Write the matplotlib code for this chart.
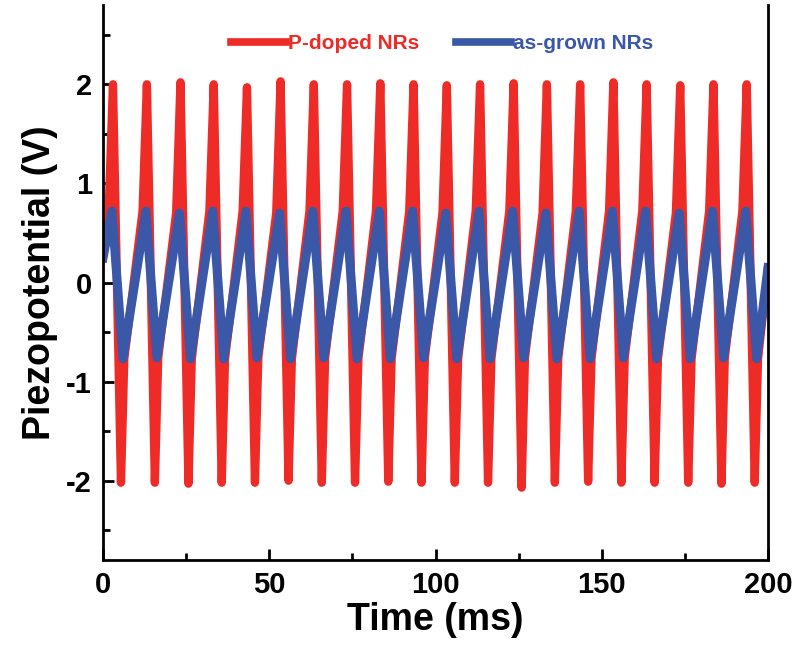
import matplotlib
matplotlib.use("Agg")
import matplotlib.pyplot as plt
from matplotlib.ticker import MultipleLocator

# times (ms) of the red spike tops, one per cycle
peak_times = [3.0, 13.2, 23.3, 33.3, 43.3, 53.4, 63.4, 73.4, 83.4, 93.4,
              103.4, 113.4, 123.5, 133.5, 143.5, 153.5, 163.5, 173.6, 183.6, 193.6]
red_peaks = [2.00, 2.00, 2.02, 2.00, 1.97, 2.03, 2.00, 2.00, 2.01, 2.00,
             1.99, 2.00, 2.01, 2.00, 2.00, 2.02, 2.00, 1.99, 2.00, 2.00]
red_troughs = [-2.02, -2.02, -2.03, -2.02, -2.02, -2.00, -2.02, -2.02, -2.01, -2.02,
               -2.02, -2.02, -2.07, -2.02, -2.01, -2.02, -2.02, -2.02, -2.03, -2.02]
blue_peaks = [0.72, 0.72, 0.70, 0.72, 0.72, 0.70, 0.72, 0.72, 0.72, 0.72,
              0.70, 0.72, 0.72, 0.70, 0.72, 0.72, 0.72, 0.70, 0.72, 0.72]
blue_troughs = [-0.77, -0.76, -0.77, -0.77, -0.76, -0.77, -0.76, -0.77, -0.77, -0.76,
                -0.77, -0.77, -0.76, -0.77, -0.77, -0.76, -0.77, -0.77, -0.76, -0.77]
start_value = 0.25
end_value = 0.15

red_c = "#ee2b26"
blue_c = "#3b57a8"

# polylines through the read key points
bt, bv = [0.0], [start_value]
rt, rv = [0.0], [start_value]
for tp, rp, rtr, bp, btr in zip(peak_times, red_peaks, red_troughs, blue_peaks, blue_troughs):
    bt += [tp - 0.3, tp + 3.0]
    bv += [bp, btr]
    rt += [tp - 1.3, tp, tp + 2.4, tp + 3.4]
    rv += [bp, rp, rtr, btr]
bt.append(200.0); bv.append(end_value)
rt.append(200.0); rv.append(end_value)

plt.rcParams['font.family'] = ['Liberation Sans Narrow', 'Liberation Sans', 'DejaVu Sans']
plt.rcParams['font.weight'] = 'bold'

fig = plt.figure(figsize=(8.02, 6.47), dpi=100)
ax = fig.add_axes([103/802, 87/647, 665/802, 555/647])

ax.plot(rt, rv, color=red_c, lw=6, label="P-doped NRs")
ax.plot(bt, bv, color=blue_c, lw=6.5, label="as-grown NRs")

ax.set_xlim(0, 200)
ax.set_ylim(-2.8, 2.8)
ax.xaxis.set_major_locator(MultipleLocator(50))
ax.xaxis.set_minor_locator(MultipleLocator(25))
ax.yaxis.set_major_locator(MultipleLocator(1))
ax.yaxis.set_minor_locator(MultipleLocator(0.5))
ax.tick_params(which='both', direction='in', width=2, top=False, right=False)
ax.tick_params(which='major', length=8, labelsize=21, pad=8)
ax.tick_params(which='minor', length=5)
ax.yaxis.set_major_formatter(plt.FuncFormatter(lambda v, p: f"{int(round(v))}"))

for s in ['left', 'bottom', 'right']:
    ax.spines[s].set_linewidth(2)
ax.spines['top'].set_visible(False)

ax.set_xlabel("Time (ms)", fontsize=27, fontweight='bold', labelpad=2)
ax.set_ylabel("Piezopotential (V)", fontsize=27, fontweight='bold', labelpad=6)

leg = ax.legend(loc='center', bbox_to_anchor=(0.51, 0.93), ncol=2, frameon=False,
                handlelength=2.6, handletextpad=0.1, columnspacing=1.8,
                labelcolor='linecolor', prop={'weight': 'bold', 'size': 15})
for h in leg.get_lines():
    h.set_linewidth(5.5)

fig.savefig("out.png", dpi=100)
